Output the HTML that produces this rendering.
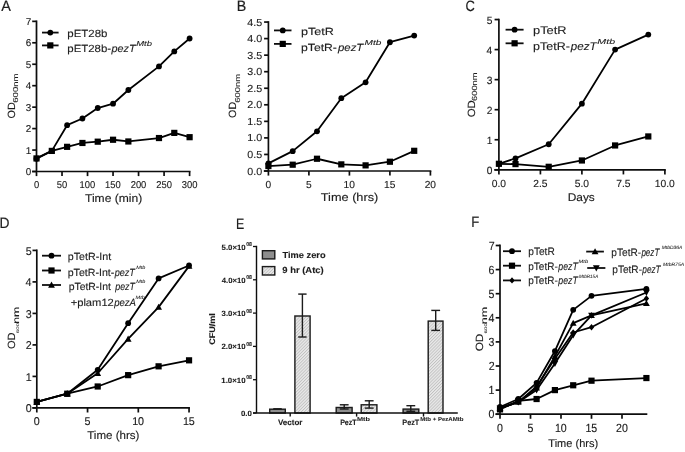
<!DOCTYPE html>
<html><head><meta charset="utf-8"><style>
html,body{margin:0;padding:0;background:#fff;width:685px;height:452px;overflow:hidden}
svg{display:block;font-family:"Liberation Sans", sans-serif;text-rendering:geometricPrecision}
text{fill:#1c1c1c;stroke:#1c1c1c}
</style></head><body>
<svg width="685" height="452" viewBox="0 0 685 452">
<defs><filter id="soft" filterUnits="userSpaceOnUse" x="0" y="0" width="685" height="452"><feGaussianBlur stdDeviation="0.45"/></filter></defs>
<rect width="685" height="452" fill="#fff"/>
<g filter="url(#soft)">
<line x1="36.5" y1="20.45" x2="36.5" y2="171.5" stroke="#111" stroke-width="1.7"/>
<line x1="32.2" y1="171.5" x2="190.5" y2="171.5" stroke="#111" stroke-width="1.7"/>
<line x1="32.2" y1="171.5" x2="36.5" y2="171.5" stroke="#111" stroke-width="1.7"/>
<text x="25.78" y="174.97" font-size="9.9" textLength="5.51" lengthAdjust="spacingAndGlyphs" stroke-width="0.12">0</text>
<line x1="32.2" y1="150.05" x2="36.5" y2="150.05" stroke="#111" stroke-width="1.7"/>
<text x="25.88" y="153.52" font-size="9.9" textLength="5.51" lengthAdjust="spacingAndGlyphs" stroke-width="0.12">1</text>
<line x1="32.2" y1="128.6" x2="36.5" y2="128.6" stroke="#111" stroke-width="1.7"/>
<text x="25.89" y="132.06" font-size="9.9" textLength="5.51" lengthAdjust="spacingAndGlyphs" stroke-width="0.12">2</text>
<line x1="32.2" y1="107.15" x2="36.5" y2="107.15" stroke="#111" stroke-width="1.7"/>
<text x="25.83" y="110.62" font-size="9.9" textLength="5.51" lengthAdjust="spacingAndGlyphs" stroke-width="0.12">3</text>
<line x1="32.2" y1="85.7" x2="36.5" y2="85.7" stroke="#111" stroke-width="1.7"/>
<text x="25.68" y="89.17" font-size="9.9" textLength="5.51" lengthAdjust="spacingAndGlyphs" stroke-width="0.12">4</text>
<line x1="32.2" y1="64.25" x2="36.5" y2="64.25" stroke="#111" stroke-width="1.7"/>
<text x="25.81" y="67.72" font-size="9.9" textLength="5.51" lengthAdjust="spacingAndGlyphs" stroke-width="0.12">5</text>
<line x1="32.2" y1="42.8" x2="36.5" y2="42.8" stroke="#111" stroke-width="1.7"/>
<text x="25.83" y="46.27" font-size="9.9" textLength="5.51" lengthAdjust="spacingAndGlyphs" stroke-width="0.12">6</text>
<line x1="32.2" y1="21.35" x2="36.5" y2="21.35" stroke="#111" stroke-width="1.7"/>
<text x="25.89" y="24.81" font-size="9.9" textLength="5.51" lengthAdjust="spacingAndGlyphs" stroke-width="0.12">7</text>
<line x1="36.5" y1="171.5" x2="36.5" y2="176.1" stroke="#111" stroke-width="1.7"/>
<text x="33.88" y="188" font-size="9.9" textLength="5.23" lengthAdjust="spacingAndGlyphs" stroke-width="0.12">0</text>
<line x1="62.02" y1="171.5" x2="62.02" y2="176.1" stroke="#111" stroke-width="1.7"/>
<text x="56.78" y="188" font-size="9.9" textLength="10.46" lengthAdjust="spacingAndGlyphs" stroke-width="0.12">50</text>
<line x1="87.53" y1="171.5" x2="87.53" y2="176.1" stroke="#111" stroke-width="1.7"/>
<text x="79.51" y="188" font-size="9.9" textLength="15.69" lengthAdjust="spacingAndGlyphs" stroke-width="0.12">100</text>
<line x1="113.05" y1="171.5" x2="113.05" y2="176.1" stroke="#111" stroke-width="1.7"/>
<text x="105.03" y="188" font-size="9.9" textLength="15.69" lengthAdjust="spacingAndGlyphs" stroke-width="0.12">150</text>
<line x1="138.57" y1="171.5" x2="138.57" y2="176.1" stroke="#111" stroke-width="1.7"/>
<text x="130.67" y="188" font-size="9.9" textLength="15.69" lengthAdjust="spacingAndGlyphs" stroke-width="0.12">200</text>
<line x1="164.08" y1="171.5" x2="164.08" y2="176.1" stroke="#111" stroke-width="1.7"/>
<text x="156.18" y="188" font-size="9.9" textLength="15.69" lengthAdjust="spacingAndGlyphs" stroke-width="0.12">250</text>
<line x1="189.6" y1="171.5" x2="189.6" y2="176.1" stroke="#111" stroke-width="1.7"/>
<text x="181.76" y="188" font-size="9.9" textLength="15.69" lengthAdjust="spacingAndGlyphs" stroke-width="0.12">300</text>
<text x="1.17" y="10.6" font-size="15" textLength="9.66" lengthAdjust="spacingAndGlyphs" stroke-width="0.18">A</text>
<text x="85.03" y="202.1" font-size="11.3" textLength="57.21" lengthAdjust="spacingAndGlyphs" stroke-width="0.14">Time (min)</text>
<text transform="translate(14.5,118) rotate(-90)" x="-0.51" y="0" font-size="10.5" textLength="16.23" lengthAdjust="spacingAndGlyphs" stroke-width="0.13">OD</text>
<text transform="translate(14.5,118) rotate(-90)" x="15.31" y="3.6" font-size="7.2" textLength="29.32" lengthAdjust="spacingAndGlyphs" stroke-width="0.09">600nm</text>
<polyline points="36.5,158.42 51.81,150.91 67.12,146.83 82.43,142.97 97.74,141.68 113.05,139.75 128.36,141.47 158.98,138.04 174.29,132.89 189.6,137.18" fill="none" stroke="#000" stroke-width="1.8" stroke-linejoin="round"/>
<rect x="33.4" y="155.32" width="6.2" height="6.2" fill="#000"/>
<rect x="48.71" y="147.81" width="6.2" height="6.2" fill="#000"/>
<rect x="64.02" y="143.73" width="6.2" height="6.2" fill="#000"/>
<rect x="79.33" y="139.87" width="6.2" height="6.2" fill="#000"/>
<rect x="94.64" y="138.58" width="6.2" height="6.2" fill="#000"/>
<rect x="109.95" y="136.65" width="6.2" height="6.2" fill="#000"/>
<rect x="125.26" y="138.37" width="6.2" height="6.2" fill="#000"/>
<rect x="155.88" y="134.94" width="6.2" height="6.2" fill="#000"/>
<rect x="171.19" y="129.79" width="6.2" height="6.2" fill="#000"/>
<rect x="186.5" y="134.08" width="6.2" height="6.2" fill="#000"/>
<polyline points="36.5,158.63 51.81,150.91 67.12,125.17 82.43,118.52 97.74,108.01 113.05,103.72 128.36,89.99 158.98,66.39 174.29,51.38 189.6,38.51" fill="none" stroke="#000" stroke-width="1.8" stroke-linejoin="round"/>
<circle cx="36.5" cy="158.63" r="2.9" fill="#000"/>
<circle cx="51.81" cy="150.91" r="2.9" fill="#000"/>
<circle cx="67.12" cy="125.17" r="2.9" fill="#000"/>
<circle cx="82.43" cy="118.52" r="2.9" fill="#000"/>
<circle cx="97.74" cy="108.01" r="2.9" fill="#000"/>
<circle cx="113.05" cy="103.72" r="2.9" fill="#000"/>
<circle cx="128.36" cy="89.99" r="2.9" fill="#000"/>
<circle cx="158.98" cy="66.39" r="2.9" fill="#000"/>
<circle cx="174.29" cy="51.38" r="2.9" fill="#000"/>
<circle cx="189.6" cy="38.51" r="2.9" fill="#000"/>
<line x1="42" y1="32.6" x2="58.6" y2="32.6" stroke="#111" stroke-width="1.8"/>
<circle cx="50.3" cy="32.6" r="2.9" fill="#000"/>
<line x1="42" y1="45.4" x2="58.6" y2="45.4" stroke="#111" stroke-width="1.8"/>
<rect x="47.2" y="42.3" width="6.2" height="6.2" fill="#000"/>
<text x="67.36" y="36.9" font-size="10.4" textLength="40.02" lengthAdjust="spacingAndGlyphs" stroke-width="0.12">pET28b</text>
<text x="67.36" y="52.4" font-size="10.4" textLength="43.74" lengthAdjust="spacingAndGlyphs" stroke-width="0.12">pET28b-</text>
<text x="111.57" y="52.4" font-size="10.4" textLength="24.09" lengthAdjust="spacingAndGlyphs" stroke-width="0.12" font-style="italic">pezT</text>
<text x="136.21" y="46.4" font-size="7.3" textLength="15.78" lengthAdjust="spacingAndGlyphs" stroke-width="0.09" font-style="italic">Mtb</text>
<line x1="268.4" y1="21.15" x2="268.4" y2="171" stroke="#111" stroke-width="1.7"/>
<line x1="263.8" y1="171" x2="431.3" y2="171" stroke="#111" stroke-width="1.7"/>
<line x1="264.1" y1="171" x2="268.4" y2="171" stroke="#111" stroke-width="1.7"/>
<text x="247.23" y="174.57" font-size="10.2" textLength="14.89" lengthAdjust="spacingAndGlyphs" stroke-width="0.12">0.0</text>
<line x1="264.1" y1="154.45" x2="268.4" y2="154.45" stroke="#111" stroke-width="1.7"/>
<text x="247.26" y="158.02" font-size="10.2" textLength="14.89" lengthAdjust="spacingAndGlyphs" stroke-width="0.12">0.5</text>
<line x1="264.1" y1="137.9" x2="268.4" y2="137.9" stroke="#111" stroke-width="1.7"/>
<text x="247.23" y="141.47" font-size="10.2" textLength="14.89" lengthAdjust="spacingAndGlyphs" stroke-width="0.12">1.0</text>
<line x1="264.1" y1="121.35" x2="268.4" y2="121.35" stroke="#111" stroke-width="1.7"/>
<text x="247.26" y="124.92" font-size="10.2" textLength="14.89" lengthAdjust="spacingAndGlyphs" stroke-width="0.12">1.5</text>
<line x1="264.1" y1="104.8" x2="268.4" y2="104.8" stroke="#111" stroke-width="1.7"/>
<text x="247.23" y="108.37" font-size="10.2" textLength="14.89" lengthAdjust="spacingAndGlyphs" stroke-width="0.12">2.0</text>
<line x1="264.1" y1="88.25" x2="268.4" y2="88.25" stroke="#111" stroke-width="1.7"/>
<text x="247.26" y="91.82" font-size="10.2" textLength="14.89" lengthAdjust="spacingAndGlyphs" stroke-width="0.12">2.5</text>
<line x1="264.1" y1="71.7" x2="268.4" y2="71.7" stroke="#111" stroke-width="1.7"/>
<text x="247.23" y="75.27" font-size="10.2" textLength="14.89" lengthAdjust="spacingAndGlyphs" stroke-width="0.12">3.0</text>
<line x1="264.1" y1="55.15" x2="268.4" y2="55.15" stroke="#111" stroke-width="1.7"/>
<text x="247.26" y="58.72" font-size="10.2" textLength="14.89" lengthAdjust="spacingAndGlyphs" stroke-width="0.12">3.5</text>
<line x1="264.1" y1="38.6" x2="268.4" y2="38.6" stroke="#111" stroke-width="1.7"/>
<text x="247.23" y="42.17" font-size="10.2" textLength="14.89" lengthAdjust="spacingAndGlyphs" stroke-width="0.12">4.0</text>
<line x1="264.1" y1="22.05" x2="268.4" y2="22.05" stroke="#111" stroke-width="1.7"/>
<text x="247.26" y="25.62" font-size="10.2" textLength="14.89" lengthAdjust="spacingAndGlyphs" stroke-width="0.12">4.5</text>
<line x1="268.4" y1="171" x2="268.4" y2="175.6" stroke="#111" stroke-width="1.7"/>
<text x="265.56" y="187.6" font-size="10.2" textLength="5.67" lengthAdjust="spacingAndGlyphs" stroke-width="0.12">0</text>
<line x1="308.9" y1="171" x2="308.9" y2="175.6" stroke="#111" stroke-width="1.7"/>
<text x="306.07" y="187.6" font-size="10.2" textLength="5.67" lengthAdjust="spacingAndGlyphs" stroke-width="0.12">5</text>
<line x1="349.4" y1="171" x2="349.4" y2="175.6" stroke="#111" stroke-width="1.7"/>
<text x="343.54" y="187.6" font-size="10.2" textLength="11.35" lengthAdjust="spacingAndGlyphs" stroke-width="0.12">10</text>
<line x1="389.9" y1="171" x2="389.9" y2="175.6" stroke="#111" stroke-width="1.7"/>
<text x="384.05" y="187.6" font-size="10.2" textLength="11.35" lengthAdjust="spacingAndGlyphs" stroke-width="0.12">15</text>
<line x1="430.4" y1="171" x2="430.4" y2="175.6" stroke="#111" stroke-width="1.7"/>
<text x="424.67" y="187.6" font-size="10.2" textLength="11.35" lengthAdjust="spacingAndGlyphs" stroke-width="0.12">20</text>
<text x="236.83" y="11.4" font-size="15" textLength="9.52" lengthAdjust="spacingAndGlyphs" stroke-width="0.18">B</text>
<polyline points="268.4,166.03 292.7,164.71 317,158.75 341.3,164.38 365.6,165.37 389.9,161.73 414.2,150.81" fill="none" stroke="#000" stroke-width="1.8" stroke-linejoin="round"/>
<rect x="265.3" y="162.94" width="6.2" height="6.2" fill="#000"/>
<rect x="289.6" y="161.61" width="6.2" height="6.2" fill="#000"/>
<rect x="313.9" y="155.65" width="6.2" height="6.2" fill="#000"/>
<rect x="338.2" y="161.28" width="6.2" height="6.2" fill="#000"/>
<rect x="362.5" y="162.27" width="6.2" height="6.2" fill="#000"/>
<rect x="386.8" y="158.63" width="6.2" height="6.2" fill="#000"/>
<rect x="411.1" y="147.71" width="6.2" height="6.2" fill="#000"/>
<polyline points="268.4,163.39 292.7,151.14 317,131.28 341.3,98.18 365.6,82.29 389.9,42.24 414.2,35.62" fill="none" stroke="#000" stroke-width="1.8" stroke-linejoin="round"/>
<circle cx="268.4" cy="163.39" r="2.9" fill="#000"/>
<circle cx="292.7" cy="151.14" r="2.9" fill="#000"/>
<circle cx="317" cy="131.28" r="2.9" fill="#000"/>
<circle cx="341.3" cy="98.18" r="2.9" fill="#000"/>
<circle cx="365.6" cy="82.29" r="2.9" fill="#000"/>
<circle cx="389.9" cy="42.24" r="2.9" fill="#000"/>
<circle cx="414.2" cy="35.62" r="2.9" fill="#000"/>
<line x1="274" y1="30.4" x2="291.5" y2="30.4" stroke="#111" stroke-width="1.8"/>
<circle cx="282.75" cy="30.4" r="2.9" fill="#000"/>
<line x1="274" y1="43.9" x2="291.5" y2="43.9" stroke="#111" stroke-width="1.8"/>
<rect x="279.65" y="40.8" width="6.2" height="6.2" fill="#000"/>
<text x="301.02" y="34.7" font-size="10.4" textLength="32.94" lengthAdjust="spacingAndGlyphs" stroke-width="0.12">pTetR</text>
<text x="301.04" y="50.8" font-size="10.4" textLength="35.88" lengthAdjust="spacingAndGlyphs" stroke-width="0.12">pTetR-</text>
<text x="337.98" y="50.8" font-size="10.4" textLength="25.34" lengthAdjust="spacingAndGlyphs" stroke-width="0.12" font-style="italic">pezT</text>
<text x="364.49" y="45.1" font-size="7.3" textLength="16.82" lengthAdjust="spacingAndGlyphs" stroke-width="0.09" font-style="italic">Mtb</text>
<text x="320.82" y="201.3" font-size="11.3" textLength="57.47" lengthAdjust="spacingAndGlyphs" stroke-width="0.14">Time (hrs)</text>
<text transform="translate(236.4,117.4) rotate(-90)" x="-0.51" y="0" font-size="10.5" textLength="16.02" lengthAdjust="spacingAndGlyphs" stroke-width="0.13">OD</text>
<text transform="translate(236.4,117.4) rotate(-90)" x="14.72" y="3.1" font-size="7.2" textLength="28.7" lengthAdjust="spacingAndGlyphs" stroke-width="0.09">600nm</text>
<line x1="498.9" y1="18.65" x2="498.9" y2="169.8" stroke="#111" stroke-width="1.7"/>
<line x1="494.3" y1="169.8" x2="665.8" y2="169.8" stroke="#111" stroke-width="1.7"/>
<line x1="494.6" y1="169.8" x2="498.9" y2="169.8" stroke="#111" stroke-width="1.7"/>
<text x="486.63" y="174.38" font-size="10.5" textLength="5.66" lengthAdjust="spacingAndGlyphs" stroke-width="0.13">0</text>
<line x1="494.6" y1="139.75" x2="498.9" y2="139.75" stroke="#111" stroke-width="1.7"/>
<text x="486.73" y="144.33" font-size="10.5" textLength="5.66" lengthAdjust="spacingAndGlyphs" stroke-width="0.13">1</text>
<line x1="494.6" y1="109.7" x2="498.9" y2="109.7" stroke="#111" stroke-width="1.7"/>
<text x="486.75" y="114.28" font-size="10.5" textLength="5.66" lengthAdjust="spacingAndGlyphs" stroke-width="0.13">2</text>
<line x1="494.6" y1="79.65" x2="498.9" y2="79.65" stroke="#111" stroke-width="1.7"/>
<text x="486.68" y="84.23" font-size="10.5" textLength="5.66" lengthAdjust="spacingAndGlyphs" stroke-width="0.13">3</text>
<line x1="494.6" y1="49.6" x2="498.9" y2="49.6" stroke="#111" stroke-width="1.7"/>
<text x="486.53" y="54.18" font-size="10.5" textLength="5.66" lengthAdjust="spacingAndGlyphs" stroke-width="0.13">4</text>
<line x1="494.6" y1="19.55" x2="498.9" y2="19.55" stroke="#111" stroke-width="1.7"/>
<text x="486.66" y="24.13" font-size="10.5" textLength="5.66" lengthAdjust="spacingAndGlyphs" stroke-width="0.13">5</text>
<line x1="498.9" y1="169.8" x2="498.9" y2="174.4" stroke="#111" stroke-width="1.7"/>
<text x="491.74" y="186.9" font-size="10.3" textLength="14.32" lengthAdjust="spacingAndGlyphs" stroke-width="0.12">0.0</text>
<line x1="540.4" y1="169.8" x2="540.4" y2="174.4" stroke="#111" stroke-width="1.7"/>
<text x="533.2" y="186.9" font-size="10.3" textLength="14.32" lengthAdjust="spacingAndGlyphs" stroke-width="0.12">2.5</text>
<line x1="581.9" y1="169.8" x2="581.9" y2="174.4" stroke="#111" stroke-width="1.7"/>
<text x="574.74" y="186.9" font-size="10.3" textLength="14.32" lengthAdjust="spacingAndGlyphs" stroke-width="0.12">5.0</text>
<line x1="623.4" y1="169.8" x2="623.4" y2="174.4" stroke="#111" stroke-width="1.7"/>
<text x="616.19" y="186.9" font-size="10.3" textLength="14.32" lengthAdjust="spacingAndGlyphs" stroke-width="0.12">7.5</text>
<line x1="664.9" y1="169.8" x2="664.9" y2="174.4" stroke="#111" stroke-width="1.7"/>
<text x="654.69" y="186.9" font-size="10.3" textLength="20.05" lengthAdjust="spacingAndGlyphs" stroke-width="0.12">10.0</text>
<text x="465.54" y="11.3" font-size="15" textLength="9.35" lengthAdjust="spacingAndGlyphs" stroke-width="0.18">C</text>
<polyline points="498.9,163.79 515.5,164.09 548.7,166.8 581.9,160.48 615.1,145.46 648.3,136.44" fill="none" stroke="#000" stroke-width="1.8" stroke-linejoin="round"/>
<rect x="495.8" y="160.69" width="6.2" height="6.2" fill="#000"/>
<rect x="512.4" y="160.99" width="6.2" height="6.2" fill="#000"/>
<rect x="545.6" y="163.7" width="6.2" height="6.2" fill="#000"/>
<rect x="578.8" y="157.38" width="6.2" height="6.2" fill="#000"/>
<rect x="612" y="142.36" width="6.2" height="6.2" fill="#000"/>
<rect x="645.2" y="133.34" width="6.2" height="6.2" fill="#000"/>
<polyline points="498.9,163.79 515.5,158.38 548.7,144.26 581.9,103.69 615.1,49.6 648.3,34.58" fill="none" stroke="#000" stroke-width="1.8" stroke-linejoin="round"/>
<circle cx="498.9" cy="163.79" r="2.9" fill="#000"/>
<circle cx="515.5" cy="158.38" r="2.9" fill="#000"/>
<circle cx="548.7" cy="144.26" r="2.9" fill="#000"/>
<circle cx="581.9" cy="103.69" r="2.9" fill="#000"/>
<circle cx="615.1" cy="49.6" r="2.9" fill="#000"/>
<circle cx="648.3" cy="34.58" r="2.9" fill="#000"/>
<line x1="505.6" y1="29.7" x2="523.6" y2="29.7" stroke="#111" stroke-width="1.8"/>
<circle cx="514.6" cy="29.7" r="2.9" fill="#000"/>
<line x1="505.6" y1="43.3" x2="523.6" y2="43.3" stroke="#111" stroke-width="1.8"/>
<rect x="511.5" y="40.2" width="6.2" height="6.2" fill="#000"/>
<text x="533.01" y="33.5" font-size="11.1" textLength="33.57" lengthAdjust="spacingAndGlyphs" stroke-width="0.13">pTetR</text>
<text x="533.02" y="49.7" font-size="11.1" textLength="36.81" lengthAdjust="spacingAndGlyphs" stroke-width="0.13">pTetR-</text>
<text x="570.89" y="49.7" font-size="11.1" textLength="25.73" lengthAdjust="spacingAndGlyphs" stroke-width="0.13" font-style="italic">pezT</text>
<text x="597.37" y="44.2" font-size="7.3" textLength="17.76" lengthAdjust="spacingAndGlyphs" stroke-width="0.09" font-style="italic">Mtb</text>
<text x="567.72" y="200.5" font-size="11.3" textLength="27.11" lengthAdjust="spacingAndGlyphs" stroke-width="0.14">Days</text>
<text transform="translate(474.6,116.8) rotate(-90)" x="-0.54" y="0" font-size="10.5" textLength="17.08" lengthAdjust="spacingAndGlyphs" stroke-width="0.13">OD</text>
<text transform="translate(474.6,116.8) rotate(-90)" x="15.83" y="1.9" font-size="7.4" textLength="28.59" lengthAdjust="spacingAndGlyphs" stroke-width="0.09">600nm</text>
<line x1="36.8" y1="249.5" x2="36.8" y2="407.9" stroke="#111" stroke-width="1.7"/>
<line x1="32.3" y1="407.9" x2="189.95" y2="407.9" stroke="#111" stroke-width="1.7"/>
<line x1="32.5" y1="407.9" x2="36.8" y2="407.9" stroke="#111" stroke-width="1.7"/>
<text x="25.65" y="412.05" font-size="11.3" textLength="5.97" lengthAdjust="spacingAndGlyphs" stroke-width="0.14">0</text>
<line x1="32.5" y1="376.4" x2="36.8" y2="376.4" stroke="#111" stroke-width="1.7"/>
<text x="25.75" y="380.55" font-size="11.3" textLength="5.97" lengthAdjust="spacingAndGlyphs" stroke-width="0.14">1</text>
<line x1="32.5" y1="344.9" x2="36.8" y2="344.9" stroke="#111" stroke-width="1.7"/>
<text x="25.77" y="349.05" font-size="11.3" textLength="5.97" lengthAdjust="spacingAndGlyphs" stroke-width="0.14">2</text>
<line x1="32.5" y1="313.4" x2="36.8" y2="313.4" stroke="#111" stroke-width="1.7"/>
<text x="25.7" y="317.55" font-size="11.3" textLength="5.97" lengthAdjust="spacingAndGlyphs" stroke-width="0.14">3</text>
<line x1="32.5" y1="281.9" x2="36.8" y2="281.9" stroke="#111" stroke-width="1.7"/>
<text x="25.54" y="286.05" font-size="11.3" textLength="5.97" lengthAdjust="spacingAndGlyphs" stroke-width="0.14">4</text>
<line x1="32.5" y1="250.4" x2="36.8" y2="250.4" stroke="#111" stroke-width="1.7"/>
<text x="25.68" y="254.55" font-size="11.3" textLength="5.97" lengthAdjust="spacingAndGlyphs" stroke-width="0.14">5</text>
<line x1="36.8" y1="407.9" x2="36.8" y2="412.5" stroke="#111" stroke-width="1.7"/>
<text x="33.81" y="425.1" font-size="11.3" textLength="5.97" lengthAdjust="spacingAndGlyphs" stroke-width="0.14">0</text>
<line x1="87.55" y1="407.9" x2="87.55" y2="412.5" stroke="#111" stroke-width="1.7"/>
<text x="84.58" y="425.1" font-size="11.3" textLength="5.97" lengthAdjust="spacingAndGlyphs" stroke-width="0.14">5</text>
<line x1="138.3" y1="407.9" x2="138.3" y2="412.5" stroke="#111" stroke-width="1.7"/>
<text x="132.13" y="425.1" font-size="11.3" textLength="11.94" lengthAdjust="spacingAndGlyphs" stroke-width="0.14">10</text>
<line x1="189.05" y1="407.9" x2="189.05" y2="412.5" stroke="#111" stroke-width="1.7"/>
<text x="182.9" y="425.1" font-size="11.3" textLength="11.94" lengthAdjust="spacingAndGlyphs" stroke-width="0.14">15</text>
<text x="-0.54" y="227.6" font-size="15" textLength="10" lengthAdjust="spacingAndGlyphs" stroke-width="0.18">D</text>
<polyline points="36.8,401.91 67.25,393.72 97.7,386.48 128.15,375.14 158.6,366.32 189.05,360.33" fill="none" stroke="#000" stroke-width="1.8" stroke-linejoin="round"/>
<rect x="33.7" y="398.81" width="6.2" height="6.2" fill="#000"/>
<rect x="64.15" y="390.62" width="6.2" height="6.2" fill="#000"/>
<rect x="94.6" y="383.38" width="6.2" height="6.2" fill="#000"/>
<rect x="125.05" y="372.04" width="6.2" height="6.2" fill="#000"/>
<rect x="155.5" y="363.22" width="6.2" height="6.2" fill="#000"/>
<rect x="185.95" y="357.23" width="6.2" height="6.2" fill="#000"/>
<polyline points="36.8,401.91 67.25,393.72 97.7,373.25 128.15,338.91 158.6,307.1 189.05,266.15" fill="none" stroke="#000" stroke-width="1.8" stroke-linejoin="round"/>
<polygon points="36.8,398.51 33.4,404.63 40.2,404.63" fill="#000"/>
<polygon points="67.25,390.32 63.85,396.44 70.65,396.44" fill="#000"/>
<polygon points="97.7,369.85 94.3,375.97 101.1,375.97" fill="#000"/>
<polygon points="128.15,335.51 124.75,341.63 131.55,341.63" fill="#000"/>
<polygon points="158.6,303.7 155.2,309.82 162,309.82" fill="#000"/>
<polygon points="189.05,262.75 185.65,268.87 192.45,268.87" fill="#000"/>
<polyline points="36.8,401.91 67.25,393.72 97.7,369.78 128.15,323.16 158.6,278.43 189.05,265.52" fill="none" stroke="#000" stroke-width="1.8" stroke-linejoin="round"/>
<circle cx="36.8" cy="401.91" r="2.9" fill="#000"/>
<circle cx="67.25" cy="393.72" r="2.9" fill="#000"/>
<circle cx="97.7" cy="369.78" r="2.9" fill="#000"/>
<circle cx="128.15" cy="323.16" r="2.9" fill="#000"/>
<circle cx="158.6" cy="278.43" r="2.9" fill="#000"/>
<circle cx="189.05" cy="265.52" r="2.9" fill="#000"/>
<line x1="42" y1="255.7" x2="61" y2="255.7" stroke="#111" stroke-width="1.8"/>
<circle cx="51.5" cy="255.7" r="2.9" fill="#000"/>
<line x1="42" y1="270.5" x2="61" y2="270.5" stroke="#111" stroke-width="1.8"/>
<rect x="48.4" y="267.4" width="6.2" height="6.2" fill="#000"/>
<line x1="42" y1="285" x2="61" y2="285" stroke="#111" stroke-width="1.8"/>
<polygon points="51.5,281.6 48.1,287.72 54.9,287.72" fill="#000"/>
<text x="67.83" y="260.1" font-size="10.4" textLength="43.35" lengthAdjust="spacingAndGlyphs" stroke-width="0.12">pTetR-Int</text>
<text x="67.73" y="276.2" font-size="10.4" textLength="46.63" lengthAdjust="spacingAndGlyphs" stroke-width="0.12">pTetR-Int-</text>
<text x="114.63" y="276.2" font-size="10.4" textLength="20.33" lengthAdjust="spacingAndGlyphs" stroke-width="0.12" font-style="italic">pezT</text>
<text x="136.23" y="268.7" font-size="4.8" textLength="9.03" lengthAdjust="spacingAndGlyphs" stroke-width="0.06" font-style="italic">Mtb</text>
<text x="68.65" y="289.6" font-size="10.4" textLength="42.23" lengthAdjust="spacingAndGlyphs" stroke-width="0.12">pTetR-Int</text>
<text x="115.22" y="289.6" font-size="10.4" textLength="19.75" lengthAdjust="spacingAndGlyphs" stroke-width="0.12" font-style="italic">pezT</text>
<text x="136.23" y="283" font-size="4.8" textLength="9.03" lengthAdjust="spacingAndGlyphs" stroke-width="0.06" font-style="italic">Mtb</text>
<text x="70.65" y="306.2" font-size="10.4" textLength="43.21" lengthAdjust="spacingAndGlyphs" stroke-width="0.12">+plam12</text>
<text x="114.14" y="306.2" font-size="10.4" textLength="21.88" lengthAdjust="spacingAndGlyphs" stroke-width="0.12" font-style="italic">pezA</text>
<text x="135.63" y="298.6" font-size="4.8" textLength="9.24" lengthAdjust="spacingAndGlyphs" stroke-width="0.06" font-style="italic">Mtb</text>
<text x="87.24" y="439.1" font-size="11.3" textLength="52.17" lengthAdjust="spacingAndGlyphs" stroke-width="0.14">Time (hrs)</text>
<text transform="translate(14.5,348.5) rotate(-90)" x="-0.52" y="0" font-size="10.5" textLength="16.55" lengthAdjust="spacingAndGlyphs" stroke-width="0.13">OD</text>
<text transform="translate(14.5,348.5) rotate(-90)" x="15.38" y="4.4" font-size="3.8" textLength="10.36" lengthAdjust="spacingAndGlyphs" stroke-width="0.05">600</text>
<text transform="translate(14.5,348.5) rotate(-90)" x="24.68" y="4" font-size="8.5" textLength="17.13" lengthAdjust="spacingAndGlyphs" stroke-width="0.1">nm</text>
<defs><pattern id="hatch" patternUnits="userSpaceOnUse" width="2.2" height="2.2" patternTransform="rotate(45)"><rect width="2.2" height="2.2" fill="#e9e9e9"/><rect width="0.85" height="2.2" fill="#c0c0c0"/></pattern></defs>
<rect x="269.7" y="409.2" width="15.6" height="3.8" fill="#8e8e8e" stroke="#1a1a1a" stroke-width="1.4"/>
<line x1="277.5" y1="408.9" x2="277.5" y2="409.3" stroke="#1a1a1a" stroke-width="1.4"/>
<line x1="273.3" y1="408.9" x2="281.7" y2="408.9" stroke="#1a1a1a" stroke-width="1.4"/>
<line x1="273.3" y1="409.3" x2="281.7" y2="409.3" stroke="#1a1a1a" stroke-width="1.4"/>
<rect x="294.9" y="316" width="15.2" height="97" fill="url(#hatch)" stroke="#1a1a1a" stroke-width="1.4"/>
<line x1="302.4" y1="294.1" x2="302.4" y2="337" stroke="#1a1a1a" stroke-width="1.4"/>
<line x1="298.2" y1="294.1" x2="306.6" y2="294.1" stroke="#1a1a1a" stroke-width="1.4"/>
<line x1="298.2" y1="337" x2="306.6" y2="337" stroke="#1a1a1a" stroke-width="1.4"/>
<rect x="336.2" y="407.5" width="15.9" height="5.5" fill="#8e8e8e" stroke="#1a1a1a" stroke-width="1.4"/>
<line x1="344.2" y1="404.8" x2="344.2" y2="409" stroke="#1a1a1a" stroke-width="1.4"/>
<line x1="339.8" y1="404.8" x2="348.6" y2="404.8" stroke="#1a1a1a" stroke-width="1.4"/>
<line x1="339.8" y1="409" x2="348.6" y2="409" stroke="#1a1a1a" stroke-width="1.4"/>
<rect x="361.2" y="404.8" width="15.7" height="8.2" fill="url(#hatch)" stroke="#1a1a1a" stroke-width="1.4"/>
<line x1="369.2" y1="400.8" x2="369.2" y2="408.1" stroke="#1a1a1a" stroke-width="1.4"/>
<line x1="364.8" y1="400.8" x2="373.6" y2="400.8" stroke="#1a1a1a" stroke-width="1.4"/>
<line x1="364.8" y1="408.1" x2="373.6" y2="408.1" stroke="#1a1a1a" stroke-width="1.4"/>
<rect x="403.1" y="409.1" width="15.7" height="3.9" fill="#8e8e8e" stroke="#1a1a1a" stroke-width="1.4"/>
<line x1="410.8" y1="405.7" x2="410.8" y2="411.3" stroke="#1a1a1a" stroke-width="1.4"/>
<line x1="406.4" y1="405.7" x2="415.2" y2="405.7" stroke="#1a1a1a" stroke-width="1.4"/>
<line x1="406.4" y1="411.3" x2="415.2" y2="411.3" stroke="#1a1a1a" stroke-width="1.4"/>
<rect x="428.2" y="321.1" width="14.8" height="91.9" fill="url(#hatch)" stroke="#1a1a1a" stroke-width="1.4"/>
<line x1="435.7" y1="310.4" x2="435.7" y2="330.4" stroke="#1a1a1a" stroke-width="1.4"/>
<line x1="431.3" y1="310.4" x2="440.1" y2="310.4" stroke="#1a1a1a" stroke-width="1.4"/>
<line x1="431.3" y1="330.4" x2="440.1" y2="330.4" stroke="#1a1a1a" stroke-width="1.4"/>
<line x1="256.5" y1="245.8" x2="256.5" y2="413" stroke="#111" stroke-width="1.4"/>
<line x1="253" y1="413" x2="457.8" y2="413" stroke="#111" stroke-width="1.5"/>
<line x1="253" y1="413" x2="256.5" y2="413" stroke="#111" stroke-width="1.3"/>
<line x1="253" y1="379.7" x2="256.5" y2="379.7" stroke="#111" stroke-width="1.3"/>
<line x1="253" y1="346.4" x2="256.5" y2="346.4" stroke="#111" stroke-width="1.3"/>
<line x1="253" y1="313.1" x2="256.5" y2="313.1" stroke="#111" stroke-width="1.3"/>
<line x1="253" y1="279.8" x2="256.5" y2="279.8" stroke="#111" stroke-width="1.3"/>
<line x1="253" y1="246.5" x2="256.5" y2="246.5" stroke="#111" stroke-width="1.3"/>
<line x1="290.2" y1="413" x2="290.2" y2="416.6" stroke="#111" stroke-width="1.4"/>
<line x1="356.6" y1="413" x2="356.6" y2="416.6" stroke="#111" stroke-width="1.4"/>
<line x1="423.5" y1="413" x2="423.5" y2="416.6" stroke="#111" stroke-width="1.4"/>
<text x="221.3" y="382.7" font-size="7.6" textLength="24.32" lengthAdjust="spacingAndGlyphs" stroke-width="0.09" font-weight="bold">1.0×10</text>
<text x="246.2" y="379.3" font-size="5.6" textLength="5.76" lengthAdjust="spacingAndGlyphs" stroke-width="0.07" font-weight="bold">08</text>
<text x="221.53" y="349.4" font-size="7.6" textLength="24.09" lengthAdjust="spacingAndGlyphs" stroke-width="0.09" font-weight="bold">2.0×10</text>
<text x="246.2" y="346" font-size="5.6" textLength="5.76" lengthAdjust="spacingAndGlyphs" stroke-width="0.07" font-weight="bold">08</text>
<text x="221.62" y="316.1" font-size="7.6" textLength="24" lengthAdjust="spacingAndGlyphs" stroke-width="0.09" font-weight="bold">3.0×10</text>
<text x="246.2" y="312.7" font-size="5.6" textLength="5.76" lengthAdjust="spacingAndGlyphs" stroke-width="0.07" font-weight="bold">08</text>
<text x="221.68" y="282.8" font-size="7.6" textLength="23.94" lengthAdjust="spacingAndGlyphs" stroke-width="0.09" font-weight="bold">4.0×10</text>
<text x="246.2" y="279.4" font-size="5.6" textLength="5.76" lengthAdjust="spacingAndGlyphs" stroke-width="0.07" font-weight="bold">08</text>
<text x="221.56" y="249.5" font-size="7.6" textLength="24.06" lengthAdjust="spacingAndGlyphs" stroke-width="0.09" font-weight="bold">5.0×10</text>
<text x="246.2" y="246.1" font-size="5.6" textLength="5.76" lengthAdjust="spacingAndGlyphs" stroke-width="0.07" font-weight="bold">08</text>
<text x="240.99" y="415.6" font-size="7.6" textLength="10.93" lengthAdjust="spacingAndGlyphs" stroke-width="0.09" font-weight="bold">0.0</text>
<text transform="translate(215.3,344.4) rotate(-90)" x="-0.37" y="0" font-size="8.2" textLength="31.4" lengthAdjust="spacingAndGlyphs" stroke-width="0.1" font-weight="bold">CFU/ml</text>
<rect x="262.4" y="250.7" width="12.4" height="8.2" fill="#8e8e8e" stroke="#1a1a1a" stroke-width="1.4"/>
<rect x="262.4" y="266.6" width="12.4" height="8.4" fill="url(#hatch)" stroke="#1a1a1a" stroke-width="1.4"/>
<text x="282.5" y="258.1" font-size="8.8" textLength="43.06" lengthAdjust="spacingAndGlyphs" stroke-width="0.11" font-weight="bold">Time zero</text>
<text x="282.27" y="273.4" font-size="8.8" textLength="41.4" lengthAdjust="spacingAndGlyphs" stroke-width="0.11" font-weight="bold">9 hr (Atc)</text>
<text x="277.95" y="425.1" font-size="8" textLength="24.57" lengthAdjust="spacingAndGlyphs" stroke-width="0.1" font-weight="bold">Vector</text>
<text x="340.13" y="425.1" font-size="8" textLength="16.55" lengthAdjust="spacingAndGlyphs" stroke-width="0.1" font-weight="bold">PezT</text>
<text x="357.01" y="420.8" font-size="5.6" textLength="12.99" lengthAdjust="spacingAndGlyphs" stroke-width="0.07" font-weight="bold">Mtb</text>
<text x="402.31" y="424.9" font-size="8" textLength="16.96" lengthAdjust="spacingAndGlyphs" stroke-width="0.1" font-weight="bold">PezT</text>
<text x="420.19" y="421.4" font-size="5.6" textLength="43.36" lengthAdjust="spacingAndGlyphs" stroke-width="0.07" font-weight="bold">Mtb + PezAMtb</text>
<text x="235.99" y="229.4" font-size="15" textLength="8.25" lengthAdjust="spacingAndGlyphs" stroke-width="0.18">E</text>
<line x1="500" y1="244.6" x2="500" y2="414.2" stroke="#111" stroke-width="1.7"/>
<line x1="495.5" y1="414.2" x2="647.3" y2="414.2" stroke="#111" stroke-width="1.7"/>
<line x1="495.7" y1="414.2" x2="500" y2="414.2" stroke="#111" stroke-width="1.7"/>
<text x="488.51" y="418.33" font-size="11.8" textLength="5.91" lengthAdjust="spacingAndGlyphs" stroke-width="0.14">0</text>
<line x1="495.7" y1="390.1" x2="500" y2="390.1" stroke="#111" stroke-width="1.7"/>
<text x="488.61" y="394.23" font-size="11.8" textLength="5.91" lengthAdjust="spacingAndGlyphs" stroke-width="0.14">1</text>
<line x1="495.7" y1="366" x2="500" y2="366" stroke="#111" stroke-width="1.7"/>
<text x="488.63" y="370.13" font-size="11.8" textLength="5.91" lengthAdjust="spacingAndGlyphs" stroke-width="0.14">2</text>
<line x1="495.7" y1="341.9" x2="500" y2="341.9" stroke="#111" stroke-width="1.7"/>
<text x="488.56" y="346.03" font-size="11.8" textLength="5.91" lengthAdjust="spacingAndGlyphs" stroke-width="0.14">3</text>
<line x1="495.7" y1="317.8" x2="500" y2="317.8" stroke="#111" stroke-width="1.7"/>
<text x="488.4" y="321.93" font-size="11.8" textLength="5.91" lengthAdjust="spacingAndGlyphs" stroke-width="0.14">4</text>
<line x1="495.7" y1="293.7" x2="500" y2="293.7" stroke="#111" stroke-width="1.7"/>
<text x="488.54" y="297.83" font-size="11.8" textLength="5.91" lengthAdjust="spacingAndGlyphs" stroke-width="0.14">5</text>
<line x1="495.7" y1="269.6" x2="500" y2="269.6" stroke="#111" stroke-width="1.7"/>
<text x="488.56" y="273.73" font-size="11.8" textLength="5.91" lengthAdjust="spacingAndGlyphs" stroke-width="0.14">6</text>
<line x1="495.7" y1="245.5" x2="500" y2="245.5" stroke="#111" stroke-width="1.7"/>
<text x="488.63" y="249.63" font-size="11.8" textLength="5.91" lengthAdjust="spacingAndGlyphs" stroke-width="0.14">7</text>
<line x1="500" y1="414.2" x2="500" y2="418.8" stroke="#111" stroke-width="1.7"/>
<text x="497.05" y="431.9" font-size="11.8" textLength="5.91" lengthAdjust="spacingAndGlyphs" stroke-width="0.14">0</text>
<line x1="530.5" y1="414.2" x2="530.5" y2="418.8" stroke="#111" stroke-width="1.7"/>
<text x="527.56" y="431.9" font-size="11.8" textLength="5.91" lengthAdjust="spacingAndGlyphs" stroke-width="0.14">5</text>
<line x1="561" y1="414.2" x2="561" y2="418.8" stroke="#111" stroke-width="1.7"/>
<text x="554.9" y="431.9" font-size="11.8" textLength="11.81" lengthAdjust="spacingAndGlyphs" stroke-width="0.14">10</text>
<line x1="591.5" y1="414.2" x2="591.5" y2="418.8" stroke="#111" stroke-width="1.7"/>
<text x="585.41" y="431.9" font-size="11.8" textLength="11.81" lengthAdjust="spacingAndGlyphs" stroke-width="0.14">15</text>
<line x1="622" y1="414.2" x2="622" y2="418.8" stroke="#111" stroke-width="1.7"/>
<text x="616.03" y="431.9" font-size="11.8" textLength="11.81" lengthAdjust="spacingAndGlyphs" stroke-width="0.14">20</text>
<text x="471.33" y="226.8" font-size="15" textLength="8" lengthAdjust="spacingAndGlyphs" stroke-width="0.18">F</text>
<polyline points="500,409.38 518.3,400.94 536.6,399.02 554.9,390.1 573.2,385.28 591.5,380.7 646.4,378.05" fill="none" stroke="#000" stroke-width="1.8" stroke-linejoin="round"/>
<rect x="496.9" y="406.28" width="6.2" height="6.2" fill="#000"/>
<rect x="515.2" y="397.84" width="6.2" height="6.2" fill="#000"/>
<rect x="533.5" y="395.92" width="6.2" height="6.2" fill="#000"/>
<rect x="551.8" y="387" width="6.2" height="6.2" fill="#000"/>
<rect x="570.1" y="382.18" width="6.2" height="6.2" fill="#000"/>
<rect x="588.4" y="377.6" width="6.2" height="6.2" fill="#000"/>
<rect x="643.3" y="374.95" width="6.2" height="6.2" fill="#000"/>
<polyline points="500,408.18 518.3,402.15 536.6,386.49 554.9,358.77 573.2,332.5 591.5,327.2 646.4,298.52" fill="none" stroke="#000" stroke-width="1.8" stroke-linejoin="round"/>
<polygon points="500,404.98 502.7,408.18 500,411.38 497.3,408.18" fill="#000"/>
<polygon points="518.3,398.95 521,402.15 518.3,405.35 515.6,402.15" fill="#000"/>
<polygon points="536.6,383.29 539.3,386.49 536.6,389.69 533.9,386.49" fill="#000"/>
<polygon points="554.9,355.57 557.6,358.77 554.9,361.97 552.2,358.77" fill="#000"/>
<polygon points="573.2,329.3 575.9,332.5 573.2,335.7 570.5,332.5" fill="#000"/>
<polygon points="591.5,324 594.2,327.2 591.5,330.4 588.8,327.2" fill="#000"/>
<polygon points="646.4,295.32 649.1,298.52 646.4,301.72 643.7,298.52" fill="#000"/>
<polyline points="500,408.18 518.3,402.15 536.6,390.1 554.9,363.59 573.2,335.15 591.5,315.39 646.4,292.5" fill="none" stroke="#000" stroke-width="1.8" stroke-linejoin="round"/>
<polygon points="500,411.57 496.6,405.45 503.4,405.45" fill="#000"/>
<polygon points="518.3,405.55 514.9,399.43 521.7,399.43" fill="#000"/>
<polygon points="536.6,393.5 533.2,387.38 540,387.38" fill="#000"/>
<polygon points="554.9,366.99 551.5,360.87 558.3,360.87" fill="#000"/>
<polygon points="573.2,338.55 569.8,332.43 576.6,332.43" fill="#000"/>
<polygon points="591.5,318.79 588.1,312.67 594.9,312.67" fill="#000"/>
<polygon points="646.4,295.89 643,289.77 649.8,289.77" fill="#000"/>
<polyline points="500,408.18 518.3,402.15 536.6,387.69 554.9,356.36 573.2,323.1 591.5,315.39 646.4,303.34" fill="none" stroke="#000" stroke-width="1.8" stroke-linejoin="round"/>
<polygon points="500,404.78 496.6,410.9 503.4,410.9" fill="#000"/>
<polygon points="518.3,398.75 514.9,404.87 521.7,404.87" fill="#000"/>
<polygon points="536.6,384.29 533.2,390.41 540,390.41" fill="#000"/>
<polygon points="554.9,352.96 551.5,359.08 558.3,359.08" fill="#000"/>
<polygon points="573.2,319.7 569.8,325.82 576.6,325.82" fill="#000"/>
<polygon points="591.5,311.99 588.1,318.11 594.9,318.11" fill="#000"/>
<polygon points="646.4,299.94 643,306.06 649.8,306.06" fill="#000"/>
<polyline points="500,406.97 518.3,399.02 536.6,382.87 554.9,351.06 573.2,309.85 591.5,295.87 646.4,288.88" fill="none" stroke="#000" stroke-width="1.8" stroke-linejoin="round"/>
<circle cx="500" cy="406.97" r="2.9" fill="#000"/>
<circle cx="518.3" cy="399.02" r="2.9" fill="#000"/>
<circle cx="536.6" cy="382.87" r="2.9" fill="#000"/>
<circle cx="554.9" cy="351.06" r="2.9" fill="#000"/>
<circle cx="573.2" cy="309.85" r="2.9" fill="#000"/>
<circle cx="591.5" cy="295.87" r="2.9" fill="#000"/>
<circle cx="646.4" cy="288.88" r="2.9" fill="#000"/>
<line x1="503" y1="251.2" x2="521" y2="251.2" stroke="#111" stroke-width="1.8"/>
<circle cx="512" cy="251.2" r="2.9" fill="#000"/>
<line x1="503" y1="265.7" x2="521" y2="265.7" stroke="#111" stroke-width="1.8"/>
<rect x="508.9" y="262.6" width="6.2" height="6.2" fill="#000"/>
<line x1="503" y1="280.4" x2="521" y2="280.4" stroke="#111" stroke-width="1.8"/>
<polygon points="512,277.2 514.7,280.4 512,283.6 509.3,280.4" fill="#000"/>
<line x1="586.2" y1="251.6" x2="603.9" y2="251.6" stroke="#111" stroke-width="1.8"/>
<polygon points="595.05,248.2 591.65,254.32 598.45,254.32" fill="#000"/>
<line x1="587.2" y1="268" x2="605.4" y2="268" stroke="#111" stroke-width="1.8"/>
<polygon points="596.3,271.4 592.9,265.28 599.7,265.28" fill="#000"/>
<text x="528.27" y="255.3" font-size="10.8" textLength="26.48" lengthAdjust="spacingAndGlyphs" stroke-width="0.13">pTetR</text>
<text x="528.28" y="270.2" font-size="10.8" textLength="29.45" lengthAdjust="spacingAndGlyphs" stroke-width="0.13">pTetR-</text>
<text x="558.32" y="270.2" font-size="10.8" textLength="19.46" lengthAdjust="spacingAndGlyphs" stroke-width="0.13" font-style="italic">pezT</text>
<text x="578.52" y="263.3" font-size="4.8" textLength="9.55" lengthAdjust="spacingAndGlyphs" stroke-width="0.06" font-style="italic">Mtb</text>
<text x="528.28" y="284.4" font-size="10.8" textLength="29.45" lengthAdjust="spacingAndGlyphs" stroke-width="0.13">pTetR-</text>
<text x="558.32" y="284.4" font-size="10.8" textLength="19.46" lengthAdjust="spacingAndGlyphs" stroke-width="0.13" font-style="italic">pezT</text>
<text x="579.06" y="278.2" font-size="4.8" textLength="19.19" lengthAdjust="spacingAndGlyphs" stroke-width="0.06" font-style="italic">MtbR15A</text>
<text x="611.37" y="256.2" font-size="10.8" textLength="29.76" lengthAdjust="spacingAndGlyphs" stroke-width="0.13">pTetR-</text>
<text x="641.4" y="256.2" font-size="10.8" textLength="17.92" lengthAdjust="spacingAndGlyphs" stroke-width="0.13" font-style="italic">pezT</text>
<text x="661.75" y="248.6" font-size="4.8" textLength="20.41" lengthAdjust="spacingAndGlyphs" stroke-width="0.06" font-style="italic">MtbD36A</text>
<text x="612.27" y="272.9" font-size="10.8" textLength="29.76" lengthAdjust="spacingAndGlyphs" stroke-width="0.13">pTetR-</text>
<text x="642.31" y="272.9" font-size="10.8" textLength="18.31" lengthAdjust="spacingAndGlyphs" stroke-width="0.13" font-style="italic">pezT</text>
<text x="663.04" y="265.5" font-size="4.8" textLength="21.03" lengthAdjust="spacingAndGlyphs" stroke-width="0.06" font-style="italic">MtbR75A</text>
<text x="548.35" y="446.6" font-size="11" textLength="49.82" lengthAdjust="spacingAndGlyphs" stroke-width="0.13">Time (hrs)</text>
<text transform="translate(482.8,350.8) rotate(-90)" x="-0.56" y="0" font-size="10.5" textLength="17.62" lengthAdjust="spacingAndGlyphs" stroke-width="0.13">OD</text>
<text transform="translate(482.8,350.8) rotate(-90)" x="17.39" y="4" font-size="3.8" textLength="10.25" lengthAdjust="spacingAndGlyphs" stroke-width="0.05">600</text>
<text transform="translate(482.8,350.8) rotate(-90)" x="26.56" y="3.9" font-size="8.5" textLength="17.57" lengthAdjust="spacingAndGlyphs" stroke-width="0.1">nm</text>
</g>
</svg>
</body></html>
